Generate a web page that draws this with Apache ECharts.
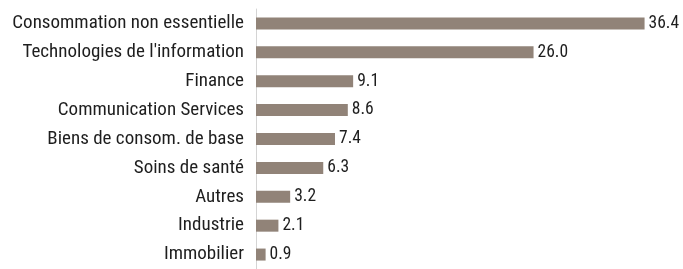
<!DOCTYPE html>
<html lang="fr">
<head>
    <meta charset="UTF-8">
    <title>Secteurs</title>
    <script src="https://cdn.jsdelivr.net/npm/echarts@6/dist/echarts.min.js"></script>
    <style>
        html, body { margin: 0; padding: 0; background: #fff; }
        #chart { width: 683px; height: 269px; }
    </style>
</head>
<body>
<div id="chart"></div>
<script>
    // données
    var categories = [
        'Consommation non essentielle',
        "Technologies de l'information",
        'Finance',
        'Communication Services',
        'Biens de consom. de base',
        'Soins de santé',
        'Autres',
        'Industrie',
        'Immobilier'
    ];
    var values = [36.4, 26.0, 9.1, 8.6, 7.4, 6.3, 3.2, 2.1, 0.9];

    var font = '"Roboto Condensed", "Liberation Sans", sans-serif';

    var chart = echarts.init(document.getElementById('chart'));
    chart.setOption({
        animation: false,
        grid: { left: 256, top: 9, width: 429, height: 264 },
        xAxis: {
            type: 'value',
            min: 0,
            max: 40,
            show: false
        },
        yAxis: {
            type: 'category',
            data: categories,
            inverse: true,
            axisLine: { show: true, lineStyle: { color: '#d4d4d4', width: 1 } },
            axisTick: { show: false },
            axisLabel: {
                margin: 12,
                color: '#1e1e1e',
                fontFamily: font,
                fontSize: 19
            }
        },
        series: [{
            type: 'bar',
            data: values,
            barWidth: 12,
            itemStyle: { color: '#918378' },
            label: {
                show: true,
                position: 'right',
                distance: 4,
                color: '#1e1e1e',
                fontFamily: font,
                fontSize: 17.5,
                formatter: function (p) { return p.value.toFixed(1); }
            }
        }]
    });
</script>
</body>
</html>
